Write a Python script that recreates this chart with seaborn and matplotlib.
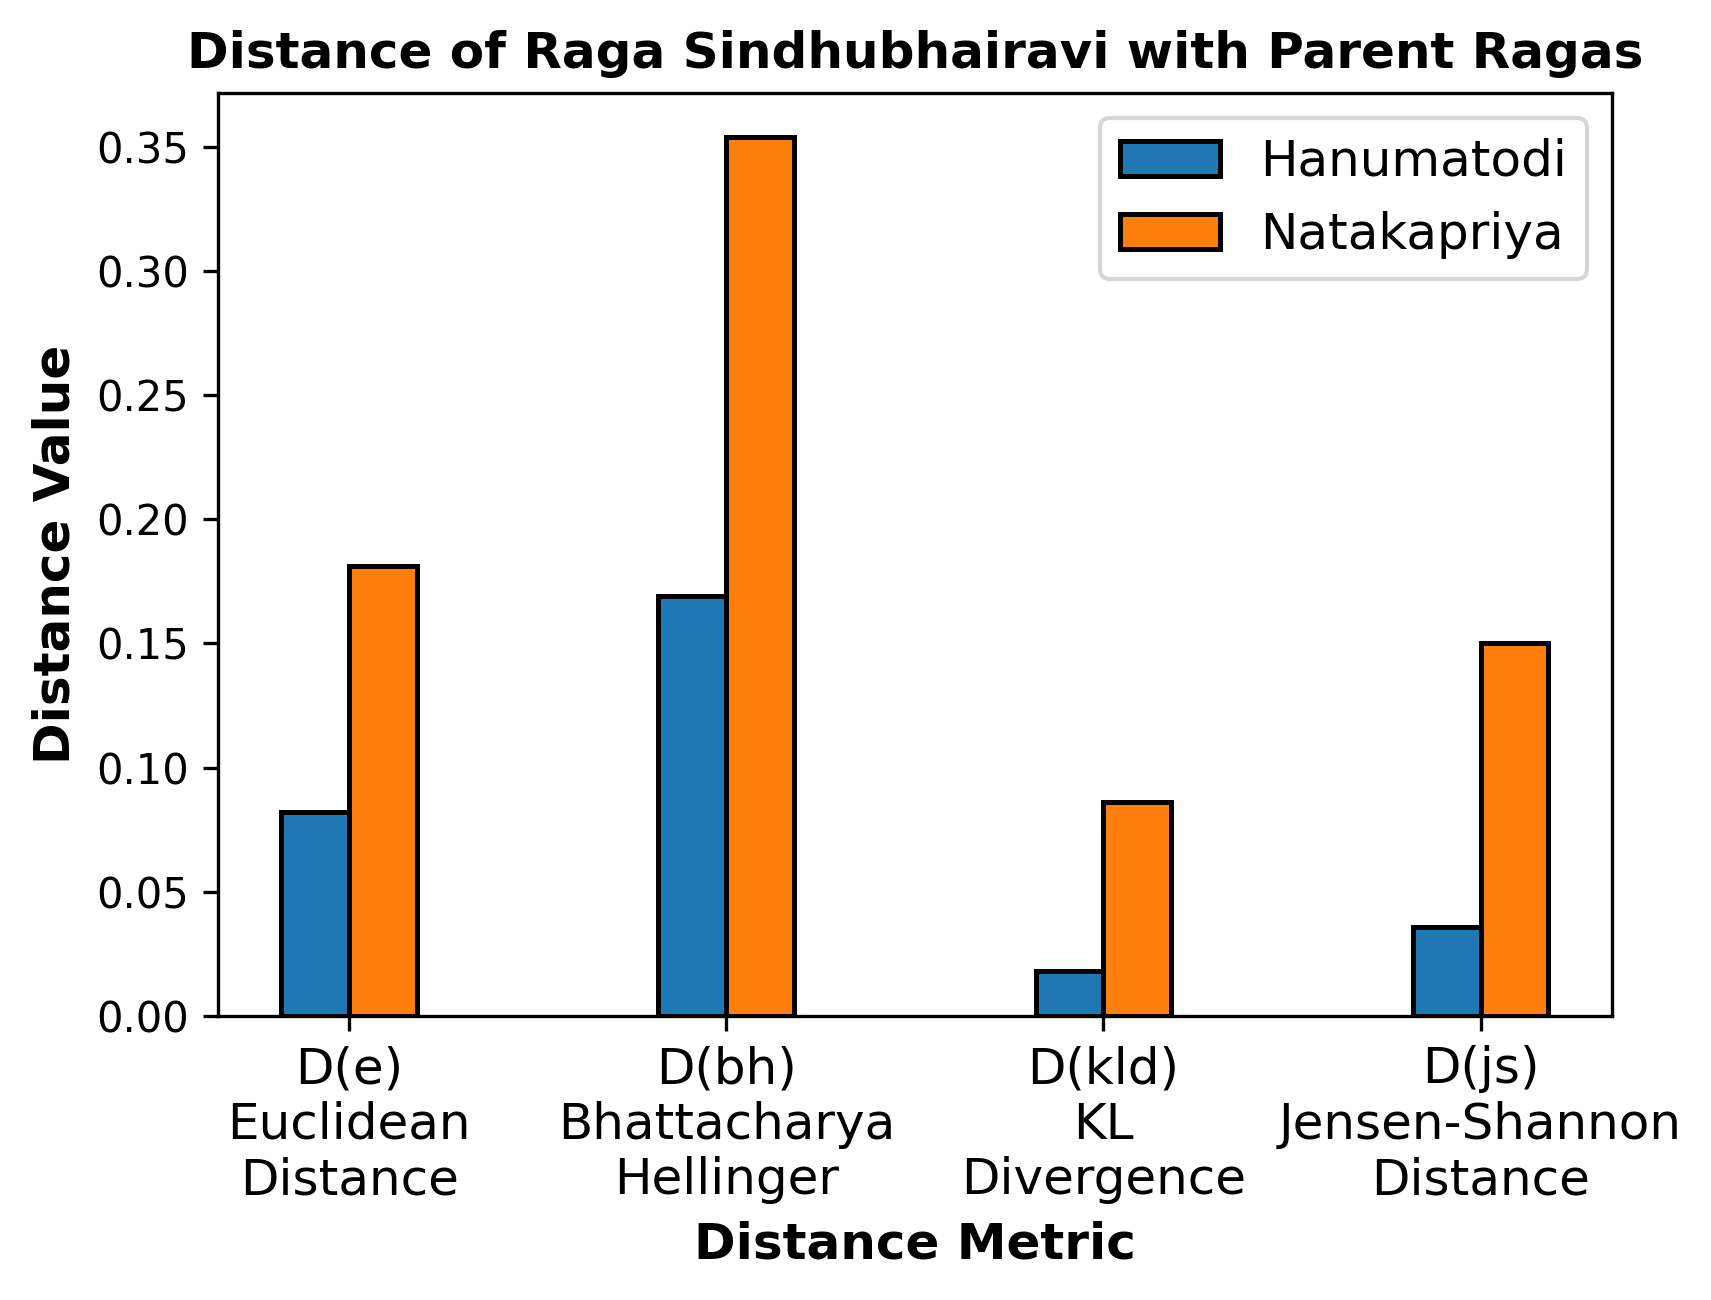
import matplotlib
matplotlib.use("Agg")
import matplotlib.pyplot as plt
import seaborn as sns
import pandas as pd

metrics = ["D(e)\nEuclidean\nDistance", "D(bh)\nBhattacharya\nHellinger",
           "D(kld)\nKL\nDivergence", "D(js)\nJensen-Shannon\nDistance"]
ragas = ["Hanumatodi", "Natakapriya"]
hanumatodi = [0.082, 0.169, 0.018, 0.036]
natakapriya = [0.181, 0.354, 0.086, 0.150]
colors = ["#1f77b4", "#ff7f0e"]

df = pd.DataFrame({
    "metric": metrics * 2,
    "raga": [ragas[0]] * 4 + [ragas[1]] * 4,
    "value": hanumatodi + natakapriya,
})

fig = plt.figure(figsize=(1711 / 300, 1300 / 300), dpi=300)
ax = fig.add_axes([0.1274, 0.2185, 0.942 - 0.1274, 0.9285 - 0.2185])

sns.barplot(data=df, x="metric", y="value", hue="raga", order=metrics,
            hue_order=ragas, palette=colors, width=0.36, errorbar=None,
            edgecolor="black", linewidth=1.2, saturation=1, ax=ax)

ax.set_xlim(-0.348, 3.348)
ax.set_title("Distance of Raga Sindhubhairavi with Parent Ragas",
             fontsize=12, fontweight="bold")
ax.set_xlabel("Distance Metric", fontsize=12, fontweight="bold")
ax.set_ylabel("Distance Value", fontsize=12, fontweight="bold")
ax.tick_params(axis="x", labelsize=12)
ax.tick_params(axis="y", labelsize=10)
for s in ax.spines.values():
    s.set_visible(True)
sns.move_legend(ax, "upper right", title=None, fontsize=12)

fig.savefig("out.png", dpi=300)
